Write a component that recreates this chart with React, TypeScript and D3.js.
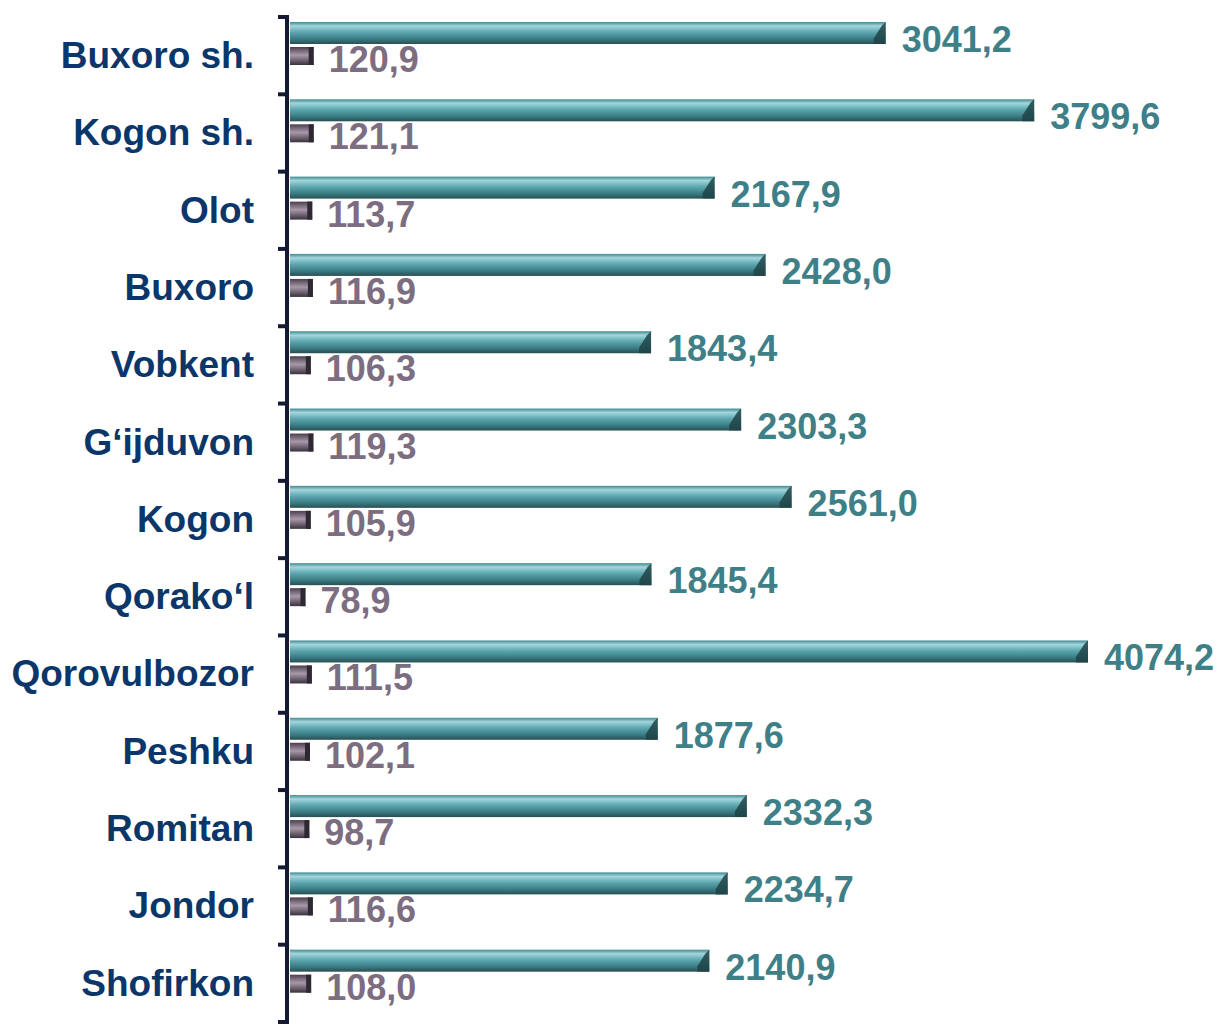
import React from "react";
import * as d3 from "d3";

const categories = [
  "Buxoro sh.", "Kogon sh.", "Olot", "Buxoro", "Vobkent", "G‘ijduvon", "Kogon",
  "Qorako‘l", "Qorovulbozor", "Peshku", "Romitan", "Jondor", "Shofirkon",
];
const seriesA = [3041.2, 3799.6, 2167.9, 2428.0, 1843.4, 2303.3, 2561.0, 1845.4, 4074.2, 1877.6, 2332.3, 2234.7, 2140.9];
const seriesB = [120.9, 121.1, 113.7, 116.9, 106.3, 119.3, 105.9, 78.9, 111.5, 102.1, 98.7, 116.6, 108.0];

const W = 1220, H = 1027;
const fmt = (v: number) => v.toFixed(1).replace(".", ",");

export default function App() {
  const x = d3.scaleLinear().domain([0, 4074.2]).range([290, 1088]);
  const y = d3.scaleBand<string>().domain(categories).range([17, 1022]).padding(0);
  const font = "'Liberation Sans', Arial, sans-serif";
  return (
    <svg width={W} height={H} style={{ position: "absolute", left: 0, top: 0 }}>
      <defs>
        <linearGradient id="gA" x1="0" y1="0" x2="0" y2="1">
          <stop offset="0" stopColor="#3f8a92" />
          <stop offset="0.18" stopColor="#a3d6db" />
          <stop offset="0.45" stopColor="#5ea9b2" />
          <stop offset="0.75" stopColor="#3c7f87" />
          <stop offset="1" stopColor="#274f54" />
        </linearGradient>
        <linearGradient id="gB" x1="0" y1="0" x2="0" y2="1">
          <stop offset="0" stopColor="#4a3f4c" />
          <stop offset="0.45" stopColor="#a898aa" />
          <stop offset="1" stopColor="#3a323d" />
        </linearGradient>
      </defs>
      {categories.map((c, i) => {
        const y0 = y(c)!;
        const a = seriesA[i], b = seriesB[i];
        const ax = x(a), bx = x(b), x0 = x(0);
        const aT = y0 + 5, aH = 22, bT = y0 + 30, bH = 18;
        return (
          <g key={c}>
            <rect x={x0} y={aT} width={ax - x0} height={aH} fill="url(#gA)" />
            <polygon
              points={`${ax - 12},${aT + aH * 0.75} ${ax - 4},${aT + 4} ${ax},${aT} ${ax},${aT + aH} ${ax - 12},${aT + aH}`}
              fill="#1f4347" opacity={0.85}
            />
            <rect x={x0} y={bT} width={bx - x0} height={bH} fill="url(#gB)" />
            <rect x={bx - 5} y={bT} width={5} height={bH} fill="#2e2832" />
            <text x={ax + 16} y={aT + 30} fill="#3f7f87" fontFamily={font} fontWeight="bold" fontSize={36}>
              {fmt(a)}
            </text>
            <text x={bx + 15} y={y0 + 55} fill="#7d6d80" fontFamily={font} fontWeight="bold" fontSize={36}>
              {fmt(b)}
            </text>
            <text x={254} y={y0 + 51} textAnchor="end" fill="#0b3669" fontFamily={font} fontWeight="bold" fontSize={37}>
              {c}
            </text>
          </g>
        );
      })}
      <line x1={287} x2={287} y1={15} y2={1024} stroke="#141a33" strokeWidth={4} />
      {d3.range(categories.length + 1).map((k) => {
        const yy = k === categories.length ? 1022 : y(categories[k])!;
        return <line key={k} x1={278} x2={289} y1={yy} y2={yy} stroke="#141a33" strokeWidth={4} />;
      })}
    </svg>
  );
}
